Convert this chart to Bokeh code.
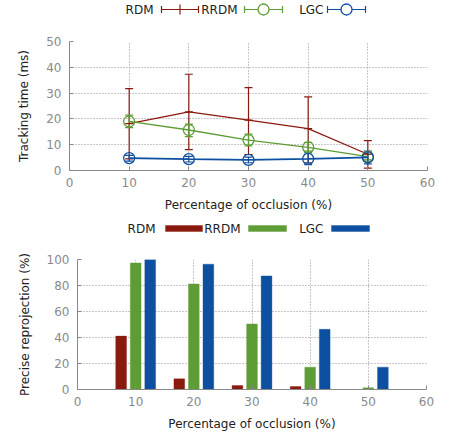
from bokeh.plotting import figure
from bokeh.models import ColumnDataSource, Whisker, TeeHead, FixedTicker, Range1d
from bokeh.core.properties import value
from bokeh.transform import dodge
from bokeh.embed import file_html
from bokeh.resources import INLINE

# ---------------- data ----------------
occlusion = [10, 20, 30, 40, 50]
x_ticks = [0, 10, 20, 30, 40, 50, 60]

rdm_time = [18.2, 22.7, 19.5, 16.2, 6.3]
rdm_time_lo = [4.5, 8.1, 6.2, 3.0, 0.9]
rdm_time_hi = [31.7, 37.3, 32.1, 28.5, 11.6]

rrdm_time = [19.0, 15.7, 11.8, 9.0, 5.4]
rrdm_time_lo = [16.6, 13.1, 9.5, 7.5, 4.1]
rrdm_time_hi = [21.5, 18.0, 14.1, 10.9, 6.4]

lgc_time = [4.8, 4.4, 4.1, 4.5, 5.1]
lgc_time_lo = [3.6, 3.3, 3.0, 2.3, 2.6]
lgc_time_hi = [5.9, 5.5, 5.2, 6.8, 7.5]

rdm_proj = [41.1, 8.2, 3.1, 2.3, 0.0]
rrdm_proj = [97.4, 81.2, 50.4, 17.2, 1.3]
lgc_proj = [100.0, 96.4, 87.4, 46.3, 17.2]

series = ["RDM", "RRDM", "LGC"]
colors = ["#8b1a0e", "#5e9c36", "#0d4fa0"]

# legend layout (page pixels, left/right ends of text and samples)
leg1_text_right = [153, 237, 323]
leg1_sample_left = [161, 244, 327]
leg1_sample_right = [198, 282, 365]
leg2_text_right = [155, 240, 323]
leg2_sample_left = [165, 248, 331]
leg2_sample_right = [202, 286, 369]

FONT = "DejaVu Sans"
GRID = "#909090"
TICKC = "#8a8a8a"
TEXTC = "#222222"
W = 453


def style(p):
    p.outline_line_color = None
    for ax in (p.xaxis[0], p.yaxis[0]):
        ax.axis_line_color = "#888888"
        ax.major_tick_in = 4
        ax.major_tick_out = 0
        ax.major_tick_line_color = "#888888"
        ax.minor_tick_line_color = None
        ax.major_label_text_color = TICKC
        ax.major_label_text_font = FONT
        ax.major_label_text_font_size = "12px"
        ax.axis_label_text_font = FONT
        ax.axis_label_text_font_size = "12px"
        ax.axis_label_text_font_style = "normal"
        ax.axis_label_text_color = TEXTC
    p.xaxis[0].ticker = FixedTicker(ticks=x_ticks)
    p.xaxis[0].major_label_standoff = 7
    p.xaxis[0].axis_label_standoff = 8
    p.yaxis[0].major_label_standoff = 8
    p.yaxis[0].axis_label_standoff = 12
    for g in (p.xgrid[0], p.ygrid[0]):
        g.grid_line_color = GRID
        g.grid_line_dash = "1 2"
        g.grid_line_width = 1
    p.xgrid[0].ticker = FixedTicker(ticks=x_ticks)


def legend_fig(h):
    f = figure(width=W, height=h, x_range=Range1d(0, W), y_range=Range1d(h, 0),
               output_backend="svg", toolbar_location=None,
               x_axis_type=None, y_axis_type=None,
               min_border_left=0, min_border_right=0, min_border_top=0, min_border_bottom=0)
    f.outline_line_color = None
    f.xgrid.visible = False
    f.ygrid.visible = False
    return f


# ---------------- top legend ----------------
LH1 = 20
ly1 = 9
lg1 = legend_fig(LH1)
lg1.text(x=leg1_text_right, y=[ly1] * 3, text=series, text_align="right",
         text_baseline="middle", text_font=value(FONT), text_font_size="12px",
         text_color=TEXTC)
centers1 = [(a + b) / 2 for a, b in zip(leg1_sample_left, leg1_sample_right)]
lg1.segment(x0=leg1_sample_left, y0=[ly1] * 3, x1=leg1_sample_right, y1=[ly1] * 3,
            line_color=colors, line_width=1.2)
lg1.segment(x0=leg1_sample_left, y0=[ly1 - 3.5] * 3, x1=leg1_sample_left, y1=[ly1 + 3.5] * 3,
            line_color=colors, line_width=1.2)
lg1.segment(x0=leg1_sample_right, y0=[ly1 - 3.5] * 3, x1=leg1_sample_right, y1=[ly1 + 3.5] * 3,
            line_color=colors, line_width=1.2)
lg1.segment(x0=centers1[:1], y0=[ly1 - 5], x1=centers1[:1], y1=[ly1 + 5],
            line_color=colors[0], line_width=1.2)
lg1.scatter(x=centers1[1:], y=[ly1] * 2, marker="circle", size=11, fill_color="white",
            line_color=colors[1:], line_width=1.3)

# ---------------- top chart ----------------
H1 = 195
p1 = figure(width=W, height=H1, x_range=Range1d(0, 60), y_range=Range1d(0, 50),
            output_backend="svg", toolbar_location=None,
            min_border_left=69, min_border_right=26, min_border_top=21, min_border_bottom=45,
            x_axis_label="Percentage of occlusion (%)", y_axis_label="Tracking time (ms)")
style(p1)
p1.yaxis[0].ticker = FixedTicker(ticks=[0, 10, 20, 30, 40, 50])

time_data = [(rdm_time, rdm_time_lo, rdm_time_hi),
             (rrdm_time, rrdm_time_lo, rrdm_time_hi),
             (lgc_time, lgc_time_lo, lgc_time_hi)]
for i, (name, col, (yv, lo, hi)) in enumerate(zip(series, colors, time_data)):
    src = ColumnDataSource(dict(x=occlusion, y=yv, lo=lo, hi=hi))
    lw = 1.3 if i != 2 else 1.6
    p1.line("x", "y", source=src, line_color=col, line_width=lw)
    wh = Whisker(source=src, base="x", upper="hi", lower="lo", line_color=col, line_width=1.2,
                 upper_head=TeeHead(size=8, line_color=col, line_width=1.2),
                 lower_head=TeeHead(size=8, line_color=col, line_width=1.2))
    p1.add_layout(wh)
    if i == 0:
        p1.scatter("x", "y", source=src, marker="dash", size=8, line_color=col, line_width=1.2)
    else:
        p1.scatter("x", "y", source=src, marker="circle", size=11, fill_color=None,
                   line_color=col, line_width=1.3)

# ---------------- bottom legend ----------------
LH2 = 26
ly2 = 13
lg2 = legend_fig(LH2)
lg2.text(x=leg2_text_right, y=[ly2] * 3, text=series, text_align="right",
         text_baseline="middle", text_font=value(FONT), text_font_size="12px",
         text_color=TEXTC)
lg2.quad(left=leg2_sample_left, right=leg2_sample_right, top=[ly2 - 3] * 3,
         bottom=[ly2 + 3] * 3, fill_color=colors, line_color=colors, line_alpha=0.4)

# ---------------- bottom chart ----------------
H2 = 200
p2 = figure(width=W, height=H2, x_range=Range1d(0, 60), y_range=Range1d(0, 100),
            output_backend="svg", toolbar_location=None,
            min_border_left=77, min_border_right=27, min_border_top=18, min_border_bottom=52,
            x_axis_label="Percentage of occlusion (%)", y_axis_label="Precise reprojection (%)")
style(p2)
p2.yaxis[0].ticker = FixedTicker(ticks=[0, 20, 40, 60, 80, 100])

bar_src = ColumnDataSource(dict(x=occlusion, RDM=rdm_proj, RRDM=rrdm_proj, LGC=lgc_proj))
offsets = [-2.5, 0.0, 2.5]
for name, col, off in zip(series, colors, offsets):
    p2.vbar(x=dodge("x", off), top=name, bottom=0, width=1.85, source=bar_src,
            fill_color=col, line_color=col, line_alpha=0.35, line_width=1)

open("out.html", "w").write(file_html([lg1, p1, lg2, p2], INLINE))
